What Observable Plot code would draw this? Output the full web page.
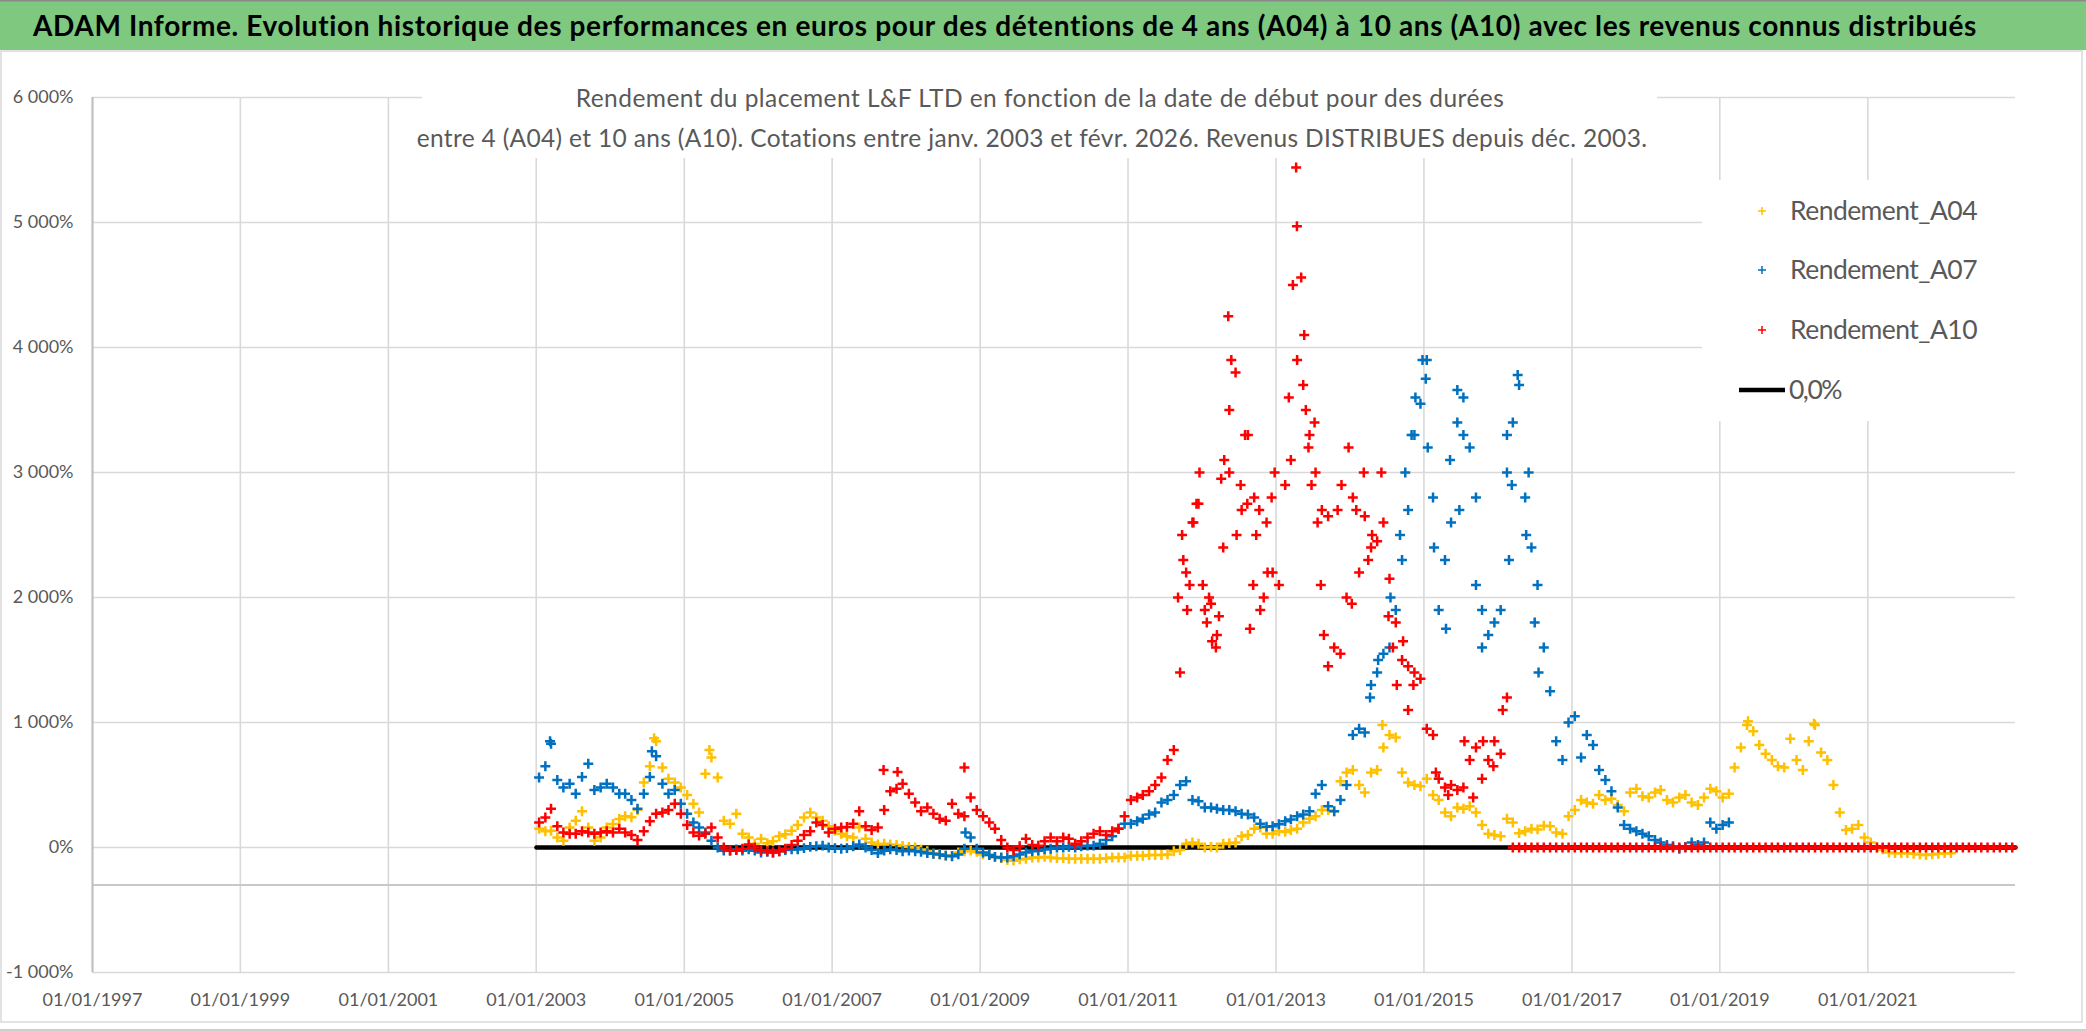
<!DOCTYPE html>
<html><head><meta charset="utf-8">
<script src="https://cdn.jsdelivr.net/npm/d3@7"></script>
<script src="https://cdn.jsdelivr.net/npm/@observablehq/plot@0.6"></script>
<style>
html,body{margin:0;padding:0;background:#fff;}
#page{position:relative;width:2086px;height:1031px;overflow:hidden;font-family:Lato,"Noto Sans",sans-serif;}
#chart{position:absolute;left:0;top:52px;}
#overlay{position:absolute;left:0;top:0;pointer-events:none;}
</style></head><body><div id="page"><div id="chart"></div></div>
<script>
// ---------- DATA ----------
const titleText = "ADAM Informe. Evolution historique des performances en euros pour des détentions de 4 ans (A04) à 10 ans (A10) avec les revenus connus distribués";
const subtitleLines = [
  "Rendement du placement L&F LTD en fonction de la date de début pour des durées",
  "entre 4 (A04) et 10 ans (A10). Cotations entre janv. 2003 et févr. 2026. Revenus DISTRIBUES depuis déc. 2003."
];
const seriesNames = ["Rendement_A04", "Rendement_A07", "Rendement_A10"];
const zeroLabel = "0,0%";
const seriesColors = ["#FFC000", "#0070C0", "#FF0000"];
const firstMonth = "2003-01-15";           // first start date (monthly readings)
const xTickYears = [1997,1999,2001,2003,2005,2007,2009,2011,2013,2015,2017,2019,2021];
const xDomain = ["1997-01-01", "2022-12-31"];
const yTicks = [-1000,0,1000,2000,3000,4000,5000,6000];
const yDomain = [-1000, 6000];
const axisCrossValue = -300;               // horizontal axis line
const zeroLineDates = ["2003-01-02", "2022-12-31"];

// Rendement_A04, monthly from Jan 2003 (%)
const a04 = [
 150,130,134,80,54,160,215,290,161,54,80,161,
 188,229,250,242,300,520,650,850,640,550,520,480,
 420,350,280,590,720,560,215,190,270,110,80,30,
 70,35,50,90,107,134,180,240,280,240,215,170,
 134,110,90,80,160,70,40,25,30,25,20,13,
 5,0,-15,-30,-50,-55,-65,-67,-40,-30,-25,-35,
 -55,-60,-75,-85,-100,-105,-95,-90,-80,-80,-75,-80,
 -85,-85,-90,-90,-90,-90,-90,-90,-85,-80,-80,-80,
 -66,-66,-66,-60,-60,-60,-55,-30,-20,30,40,30,
 0,5,0,30,35,40,90,100,150,160,110,110,
 130,125,140,150,200,230,250,300,300,290,530,600,
 620,500,440,600,620,800,900,880,600,520,500,490,
 550,420,380,280,250,320,310,330,280,180,110,100,
 90,230,200,115,130,150,145,175,170,120,110,250,
 300,380,360,350,420,380,390,340,290,440,470,410,
 400,440,460,380,360,400,420,360,340,400,470,450,
 400,430,640,800,980,930,820,750,700,650,640,870,
 700,620,850,980,760,700,500,280,140,150,180,80,
 40,0,-15,-40,-45,-45,-45,-50,-55,-60,-55,-50,-45,-45
];
// Rendement_A07, monthly from Jan 2003 (%)
const a07 = [
 560,650,830,540,480,510,430,565,670,460,480,510,
 480,430,430,380,310,430,565,730,510,430,460,350,
 270,200,160,120,55,0,-25,-25,-15,-25,-15,-25,
 -40,-35,-40,-30,-20,-15,-15,-5,5,10,15,0,
 -5,-10,-5,10,25,0,-20,-45,-25,-15,-20,-30,
 -25,-30,-35,-45,-50,-55,-65,-70,-55,-10,80,-10,
 -40,-60,-75,-80,-80,-70,-55,-40,-30,-25,-15,-10,
 0,0,5,0,10,15,15,30,60,90,150,190,
 190,210,230,264,280,360,380,420,500,530,380,370,
 320,320,310,300,300,290,270,264,240,190,167,170,
 186,210,225,250,264,290,430,500,330,290,380,500,
 900,950,920,1300,1400,1550,1600,1900,2300,2700,3300,3550,
 3900,2800,1900,2300,2600,3400,3600,3200,2800,1900,1700,1800,
 1900,3000,3400,3700,2800,2400,2100,1600,1250,850,700,1000,
 1050,720,900,820,620,540,450,320,180,150,130,110,
 90,60,40,20,10,-10,5,40,20,40,200,150,
 180,200
];
// Rendement_A10, monthly from Jan 2003 (%), zero after Feb 2016
const a10 = [
 200,240,310,170,120,110,110,130,120,110,120,130,
 120,150,120,100,60,130,210,270,280,300,350,270,
 180,120,95,110,160,80,0,-25,-20,-10,25,0,
 -25,-30,-40,-30,-10,20,55,100,130,200,180,120,
 150,160,165,190,290,170,140,160,300,450,470,510,
 430,360,290,320,270,230,215,350,270,250,400,300,
 250,200,150,60,0,-20,10,70,20,15,50,80,
 50,80,70,30,50,80,110,130,100,130,150,250,
 380,400,420,450,500,560,700,780,1400,2200,2600,2750,
 1900,1950,1700,2400,3000,3800,2700,3300,2800,1900,2600,2200,
 2100,2900,3100,3900,3700,3300,3000,2700,2650,1600,1550,2000,
 2800,2200,2650,2400,2450,2600,2150,1800,1500,1100,1400,1350,
 950,900,550,480,500,460,480,700,800,550,700,850,
 750,1200,0,0,0,0,0,0,0,0,0,0,
 0,0,0,0,0,0,0,0,0,0,0,0,
 0,0,0,0,0,0,0,0,0,0,0,0,
 0,0,0,0,0,0,0,0,0,0,0,0,
 0,0,0,0,0,0,0,0,0,0,0,0,
 0,0,0,0,0,0,0,0,0,0,0,0,
 0,0,0,0,0,0,0,0,0,0,0,0
];
// additional readings inside the scattered clusters [date, %]
const a04Extra = [["2004-08-05",874],["2005-05-05",780],["2014-06-10",980],["2019-05-20",1010],["2020-04-10",990]];
const a07Extra = [["2003-03-10",850],["2004-07-25",770],["2008-10-20",120],
 ["2014-04-10",1200],["2014-05-20",1500],["2014-07-20",2000],["2014-09-05",2500],["2014-10-01",3000],["2014-11-01",3300],["2014-11-20",3600],
 ["2014-12-25",3900],["2015-01-10",3750],["2015-01-20",3200],["2015-02-20",2400],["2015-04-20",1750],["2015-05-10",3100],["2015-06-15",3660],["2015-06-25",2700],
 ["2015-07-15",3300],["2015-09-15",2100],["2015-10-15",1600],["2016-02-15",3300],["2016-02-25",2300],["2016-03-10",2900],["2016-04-08",3780],["2016-05-20",2500],
 ["2016-06-01",3000],["2016-07-01",1800],["2016-07-20",1400]];
const a10Extra = [["2007-09-12",620],["2007-11-20",605],["2008-10-15",640],
 ["2011-09-05",2000],["2011-09-25",2500],["2011-10-01",2300],["2011-10-20",1900],["2011-11-01",2100],["2011-11-20",2600],["2011-12-05",2750],["2011-12-20",3000],
 ["2012-01-05",2100],["2012-01-25",1800],["2012-02-05",2000],["2012-02-20",1650],["2012-03-10",1600],["2012-03-25",1850],["2012-04-05",2950],["2012-04-20",3100],
 ["2012-05-10",4250],["2012-05-15",3500],["2012-05-25",3900],["2012-06-20",2500],["2012-07-10",2900],["2012-08-01",3300],["2012-08-12",2750],["2012-08-25",1750],
 ["2012-09-10",2100],["2012-09-25",2500],["2012-10-10",2700],["2012-11-01",2000],["2012-11-20",2200],["2012-12-10",2800],["2012-12-25",3000],
 ["2013-03-05",3600],["2013-03-25",4500],["2013-04-10",5440],["2013-04-14",4970],["2013-05-05",4560],["2013-05-20",4100],["2013-05-28",3500],["2013-06-10",3200],
 ["2013-06-25",2900],["2013-07-10",3400],["2013-07-25",2600],["2013-08-10",2100],["2013-08-25",1700],["2013-09-15",1450],["2013-11-01",2700],["2013-11-20",2900],
 ["2013-12-25",3200],["2014-01-10",1950],["2014-02-01",2700],["2014-03-10",3000],["2014-04-01",2300],["2014-04-20",2500],["2014-06-05",3000],["2014-07-10",1850],
 ["2014-08-01",1600],["2014-08-20",1300],["2014-09-20",1650],["2014-10-15",1450],["2014-11-10",1300],
 ["2015-03-01",600],["2015-05-01",420],["2015-07-20",850],["2015-09-01",400],["2015-10-20",850],["2015-12-10",650],["2016-01-25",1100]];

// ---------- BUILD ----------
const start = new Date(firstMonth);
const monthly = arr => arr.map((v, i) => ({date: d3.utcMonth.offset(start, i), v}));
const extra = arr => arr.map(([d, v]) => ({date: new Date(d), v}));
const seriesRows = [
  monthly(a04).concat(extra(a04Extra)),
  monthly(a07).concat(extra(a07Extra)),
  monthly(a10).concat(extra(a10Extra))
];
const zeroRows = zeroLineDates.map(d => ({date: new Date(d), v: 0}));
const xTicks = xTickYears.map(y => new Date(Date.UTC(y, 0, 1)));
const fr = d3.formatLocale({decimal: ",", thousands: "\u00a0", grouping: [3], currency: ["", " €"], minus: "-"});
const fmtPct = d => fr.format(",d")(d) + "%";
const fmtDate = d3.utcFormat("%d/%m/%Y");

const chart = Plot.plot({
  width: 2086, height: 979,
  marginTop: 45, marginBottom: 59, marginLeft: 92, marginRight: 71,
  x: {type: "utc", domain: xDomain.map(d => new Date(d))},
  y: {domain: yDomain},
  style: {fontFamily: "Lato, 'Noto Sans', sans-serif", background: "transparent", overflow: "visible"},
  marks: [
    Plot.gridX(xTicks, {stroke: "#d9d9d9", strokeOpacity: 1, strokeWidth: 1.6}),
    Plot.gridY(yTicks, {stroke: "#d9d9d9", strokeOpacity: 1, strokeWidth: 1.6}),
    Plot.ruleY([axisCrossValue], {stroke: "#c8c8c8", strokeWidth: 2}),
    Plot.ruleX([xTicks[0]], {stroke: "#bfbfbf", strokeWidth: 2}),
    Plot.axisY(yTicks, {label: null, tickSize: 0, tickPadding: 19, tickFormat: fmtPct, fontSize: 18, color: "#595959"}),
    Plot.axisX(xTicks, {label: null, tickSize: 0, tickPadding: 21, tickFormat: fmtDate, fontSize: 18, color: "#595959"}),
    Plot.line(zeroRows, {x: "date", y: "v", stroke: "#000", strokeWidth: 4.5}),
    ...seriesRows.map((rows, k) => Plot.dot(rows, {x: "date", y: "v", symbol: "plus", r: 3.3, stroke: seriesColors[k], strokeWidth: 2.5}))
  ]
});
document.getElementById("chart").appendChild(chart);

// ---------- OVERLAY: banner, subtitle, legend, frame ----------
const svg = d3.select("#page").append("svg").attr("id", "overlay")
  .attr("width", 2086).attr("height", 1031)
  .style("font-family", "Lato, 'Noto Sans', sans-serif");
// fit a text to a target width using letter-spacing (real layout width)
function fitText(sel, target) {
  const node = sel.node();
  const n = node.textContent.length;
  const w = node.getComputedTextLength();
  sel.style("letter-spacing", ((target - w) / n).toFixed(3) + "px");
  return sel;
}
// chart frame
svg.append("rect").attr("x", 1).attr("y", 51).attr("width", 2081).attr("height", 971)
  .attr("fill", "none").attr("stroke", "#d9d9d9").attr("stroke-width", 1.5);
svg.append("line").attr("x1", 0).attr("x2", 2086).attr("y1", 1030).attr("y2", 1030).attr("stroke", "#bfbfbf").attr("stroke-width", 1.5);
// banner
svg.append("rect").attr("x", 0).attr("y", 0).attr("width", 2086).attr("height", 50).attr("fill", "#7ec87f");
svg.append("line").attr("x1", 0).attr("x2", 2086).attr("y1", 0.75).attr("y2", 0.75).attr("stroke", "#8a8a8a").attr("stroke-width", 1.5);
fitText(svg.append("text").attr("x", 1005).attr("y", 36).attr("text-anchor", "middle")
  .attr("font-size", 28).attr("font-weight", 700).attr("fill", "#000").text(titleText), 1945);
// subtitle box + text
svg.append("rect").attr("x", 422).attr("y", 56).attr("width", 1235).attr("height", 102).attr("fill", "#fff");
const subX = [1040, 1032], subY = [107, 147], subW = [929, 1231];
subtitleLines.forEach((t, i) => fitText(svg.append("text").attr("x", subX[i]).attr("y", subY[i]).attr("text-anchor", "middle")
  .attr("font-size", 24.5).attr("fill", "#595959").text(t), subW[i]));
// legend box
svg.append("rect").attr("x", 1702).attr("y", 180).attr("width", 314).attr("height", 241).attr("fill", "#fff");
const legY = [211, 270, 330];
seriesNames.forEach((name, k) => {
  const g = svg.append("g").attr("transform", `translate(1762,${legY[k]})`);
  g.append("path").attr("d", "M-4,0H4M0,-4V4").attr("stroke", seriesColors[k]).attr("stroke-width", 1.5);
  fitText(g.append("text").attr("x", 28).attr("dy", "0.35em").attr("font-size", 26.5).attr("fill", "#595959").text(name), 187);
});
const gz = svg.append("g").attr("transform", "translate(1762,390)");
gz.append("line").attr("x1", -23).attr("x2", 23).attr("stroke", "#000").attr("stroke-width", 4.5);
fitText(gz.append("text").attr("x", 27).attr("dy", "0.35em").attr("font-size", 26.5).attr("fill", "#595959").text(zeroLabel), 52);
</script>
</body></html>
